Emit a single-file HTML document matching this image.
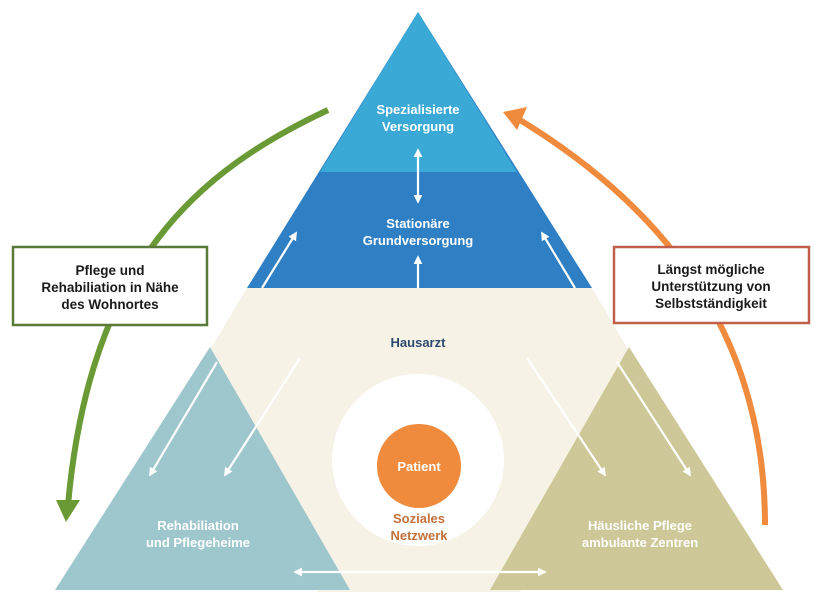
<!DOCTYPE html>
<html><head><meta charset="utf-8"><style>
html,body{margin:0;padding:0;background:#fff;}
svg{display:block;}
text{font-family:"Liberation Sans",sans-serif;font-weight:bold;}
</style></head><body>
<svg width="817" height="607" viewBox="0 0 817 607" xmlns="http://www.w3.org/2000/svg">
<defs>
<marker id="wa" viewBox="0 0 10 10" refX="8" refY="5" markerWidth="4" markerHeight="4" orient="auto-start-reverse"><path d="M0,0 L10,5 L0,10 z" fill="#fff"/></marker>
</defs>
<rect width="817" height="607" fill="#fff"/>
<!-- cream hexagon -->
<polygon points="247,288 592,288 640,370 520,592 318,592 198,370" fill="#f6f2e6"/>
<!-- top triangle -->
<polygon points="418,12 247,288 592,288" fill="#2f7fc4"/>
<polygon points="418,12 320,172 517,172" fill="#3aa9d6"/>
<!-- bottom triangles -->
<polygon points="210,347 55,590 350,590" fill="#9ec6cd"/>
<polygon points="629,347 490,590 783,590" fill="#cec797"/>
<!-- white circle -->
<circle cx="418" cy="460" r="86" fill="#fff"/>
<circle cx="419" cy="466" r="42" fill="#f08a3c"/>
<!-- white arrows -->
<g stroke="#fff" stroke-width="2.2" fill="none" marker-end="url(#wa)">
<line x1="418" y1="150" x2="418" y2="202" marker-start="url(#wa)"/>
<line x1="418" y1="288" x2="418" y2="257"/>
<line x1="262" y1="288" x2="296" y2="233"/>
<line x1="575" y1="288" x2="542" y2="233"/>
<line x1="217" y1="362" x2="150" y2="475"/>
<line x1="300" y1="358" x2="225" y2="475"/>
<line x1="527" y1="358" x2="605" y2="475"/>
<line x1="617" y1="362" x2="690" y2="475"/>
<line x1="295" y1="572" x2="545" y2="572" marker-start="url(#wa)"/>
</g>
<!-- green arc -->
<path d="M328,110 C200,170 90,260 68,505" stroke="#6a9a35" stroke-width="6" fill="none"/>
<polygon points="56,500 80,500 66,522" fill="#6a9a35"/>
<!-- orange arc -->
<path d="M765,525 C765,370 700,230 520,120" stroke="#f08a3c" stroke-width="6" fill="none"/>
<polygon points="503,112 527,107 517,130" fill="#f08a3c"/>
<!-- boxes -->
<rect x="13" y="247" width="194" height="78" fill="#fff" stroke="#5a7a3a" stroke-width="2.5"/>
<rect x="614" y="247" width="195" height="76" fill="#fff" stroke="#c0604a" stroke-width="2.5"/>
<g font-size="13.5" fill="#1a1a1a" text-anchor="middle">
<text x="110" y="275">Pflege und</text>
<text x="110" y="292">Rehabiliation in Nähe</text>
<text x="110" y="309">des Wohnortes</text>
<text x="711" y="274">Längst mögliche</text>
<text x="711" y="291">Unterstützung von</text>
<text x="711" y="308">Selbstständigkeit</text>
</g>
<g font-size="13" fill="#fff" text-anchor="middle">
<text x="418" y="114">Spezialisierte</text>
<text x="418" y="131">Versorgung</text>
<text x="418" y="228">Stationäre</text>
<text x="418" y="245">Grundversorgung</text>
<text x="198" y="530">Rehabiliation</text>
<text x="198" y="547">und Pflegeheime</text>
<text x="640" y="530">Häusliche Pflege</text>
<text x="640" y="547">ambulante Zentren</text>
<text x="419" y="471">Patient</text>
</g>
<text x="418" y="347" font-size="13" fill="#2b4a6e" text-anchor="middle">Hausarzt</text>
<g font-size="13" fill="#c4703a" text-anchor="middle">
<text x="419" y="523">Soziales</text>
<text x="419" y="540">Netzwerk</text>
</g>
</svg>
</body></html>
